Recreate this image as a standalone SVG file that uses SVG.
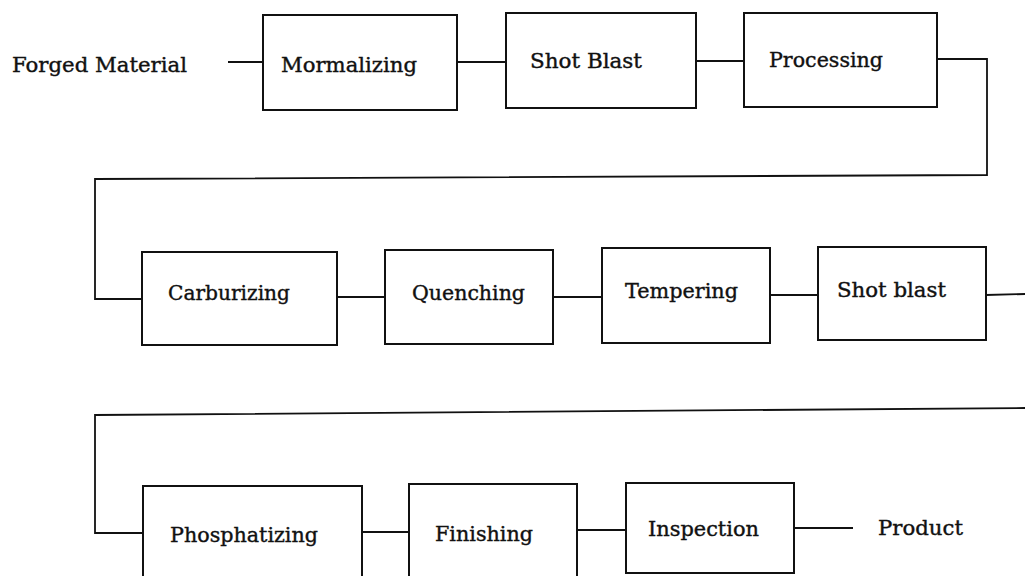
<svg xmlns="http://www.w3.org/2000/svg" width="1025" height="576" viewBox="0 0 1025 576">
<style>
.box{fill:#fff;stroke:#111;stroke-width:2}
.ln{fill:none;stroke:#111;stroke-width:1.8}
.t{font-family:"DejaVu Serif","Liberation Serif",serif;font-size:21px;fill:#111;stroke:#111;stroke-width:0.4}
</style>
<rect width="1025" height="576" fill="#fff"/>
<g id="connectors">
<line class="ln" x1="228" y1="62" x2="263" y2="62"/>
<line class="ln" x1="457" y1="62" x2="506" y2="62"/>
<line class="ln" x1="696" y1="61" x2="744" y2="61"/>
<polyline class="ln" points="937,59 987,59 987,175 95,179 95,299 142,299"/>
<line class="ln" x1="337" y1="297" x2="385" y2="297"/>
<line class="ln" x1="553" y1="297" x2="602" y2="297"/>
<line class="ln" x1="770" y1="295" x2="818" y2="295"/>
<line class="ln" x1="986" y1="295" x2="1025" y2="294"/>
<polyline class="ln" points="1025,408 95,415 95,533 143,533"/>
<line class="ln" x1="362" y1="532" x2="409" y2="532"/>
<line class="ln" x1="577" y1="530" x2="626" y2="530"/>
<line class="ln" x1="794" y1="528" x2="853" y2="528"/>
</g>
<g id="forged"><text class="t" x="12" y="72" textLength="175" lengthAdjust="spacingAndGlyphs">Forged Material</text></g>
<g id="mormalizing"><rect class="box" x="263" y="15" width="194" height="95"/><text class="t" x="281" y="72" textLength="136" lengthAdjust="spacingAndGlyphs">Mormalizing</text></g>
<g id="shotblast1"><rect class="box" x="506" y="13" width="190" height="95"/><text class="t" x="530" y="68" textLength="112" lengthAdjust="spacingAndGlyphs">Shot Blast</text></g>
<g id="processing"><rect class="box" x="744" y="13" width="193" height="94"/><text class="t" x="769" y="67" textLength="114" lengthAdjust="spacingAndGlyphs">Processing</text></g>
<g id="carburizing"><rect class="box" x="142" y="252" width="195" height="93"/><text class="t" x="168" y="300" textLength="122" lengthAdjust="spacingAndGlyphs">Carburizing</text></g>
<g id="quenching"><rect class="box" x="385" y="250" width="168" height="94"/><text class="t" x="412" y="300" textLength="113" lengthAdjust="spacingAndGlyphs">Quenching</text></g>
<g id="tempering"><rect class="box" x="602" y="248" width="168" height="95"/><text class="t" x="625" y="298" textLength="113" lengthAdjust="spacingAndGlyphs">Tempering</text></g>
<g id="shotblast2"><rect class="box" x="818" y="247" width="168" height="93"/><text class="t" x="837" y="297" textLength="109" lengthAdjust="spacingAndGlyphs">Shot blast</text></g>
<g id="phosphatizing"><rect class="box" x="143" y="486" width="219" height="95"/><text class="t" x="170" y="542" textLength="148" lengthAdjust="spacingAndGlyphs">Phosphatizing</text></g>
<g id="finishing"><rect class="box" x="409" y="484" width="168" height="97"/><text class="t" x="435" y="541" textLength="98" lengthAdjust="spacingAndGlyphs">Finishing</text></g>
<g id="inspection"><rect class="box" x="626" y="483" width="168" height="90"/><text class="t" x="648" y="536" textLength="111" lengthAdjust="spacingAndGlyphs">Inspection</text></g>
<g id="product"><text class="t" x="878" y="535" textLength="85" lengthAdjust="spacingAndGlyphs">Product</text></g>
</svg>
